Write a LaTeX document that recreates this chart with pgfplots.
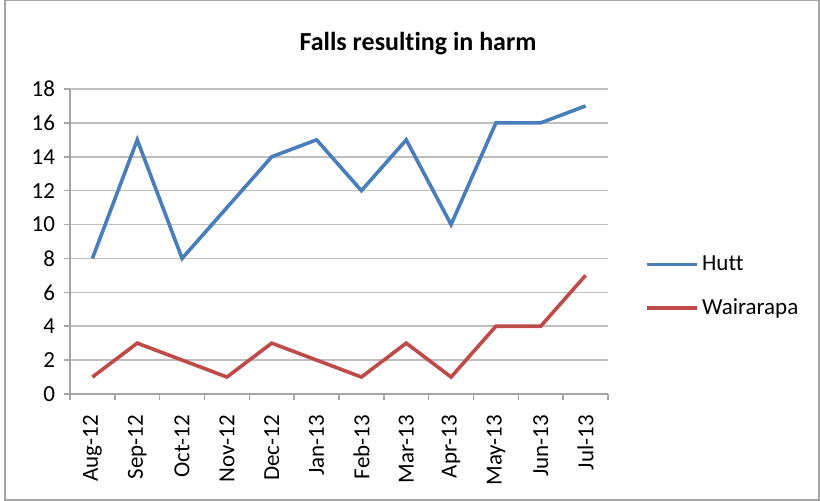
\documentclass[border=0pt]{standalone}
\usepackage{fontspec}
\setmainfont{Carlito}[Ligatures={NoCommon}]
\usepackage{pgfplots}
\pgfplotsset{compat=1.18}
\definecolor{huttblue}{RGB}{74,126,187}
\definecolor{wairred}{RGB}{190,75,72}
\definecolor{gridgray}{RGB}{190,190,190}
\definecolor{axgray}{RGB}{165,165,165}
\begin{document}
\begin{tikzpicture}[x=1pt,y=1pt]
\useasboundingbox (0,0) rectangle (410,250.5);
\draw[axgray,line width=0.8pt] (2.5,0.5) rectangle (409.5,250.5);
\node[font=\fontsize{13}{15}\selectfont\bfseries] at (209,228.5) {Falls resulting in harm};
\begin{axis}[
  at={(35pt,53.5pt)}, anchor=south west,
  scale only axis, width=269pt, height=152.5pt,
  xmin=-0.5, xmax=11.5, ymin=0, ymax=18,
  /pgf/number format/assume math mode=true,
  axis x line*=bottom, axis y line*=left,
  axis line style={axgray, line width=0.8pt, -},
  xtick={0,...,11},
  xticklabels={Aug-12,Sep-12,Oct-12,Nov-12,Dec-12,Jan-13,Feb-13,Mar-13,Apr-13,May-13,Jun-13,Jul-13},
  x tick label style={rotate=90, anchor=east, font=\fontsize{11.5}{13}\selectfont, yshift=0pt, xshift=-4pt},
  major x tick style={draw=none},
  minor xtick={-0.5,0.5,...,11.5},
  minor tick length=3pt,
  minor x tick style={axgray, line width=0.8pt},
  ytick={0,2,...,18},
  y tick label style={font=\fontsize{11.5}{13}\selectfont},
  major tick length=3pt,
  tick align=outside,
  major y tick style={axgray, line width=0.8pt},
  ymajorgrids, grid style={gridgray, line width=0.8pt},
  yticklabel style={xshift=-1pt},
  legend style={at={(1.069,0.465)}, anchor=north west, draw=none, fill=none,
    font=\fontsize{11.5}{13}\selectfont, inner sep=0pt, row sep=9.5pt,
    nodes={inner sep=1.5pt}},
  legend cell align=left,
  legend image code/.code={\draw[#1] (0pt,0pt) -- (25pt,0pt);},
]
\addplot[huttblue, line width=1.8pt] coordinates {(0,8) (1,15) (2,8) (3,11) (4,14) (5,15) (6,12) (7,15) (8,10) (9,16) (10,16) (11,17)};
\addlegendentry{Hutt}
\addplot[wairred, line width=1.8pt] coordinates {(0,1) (1,3) (2,2) (3,1) (4,3) (5,2) (6,1) (7,3) (8,1) (9,4) (10,4) (11,7)};
\addlegendentry{Wairarapa}
\end{axis}
\end{tikzpicture}
\end{document}
